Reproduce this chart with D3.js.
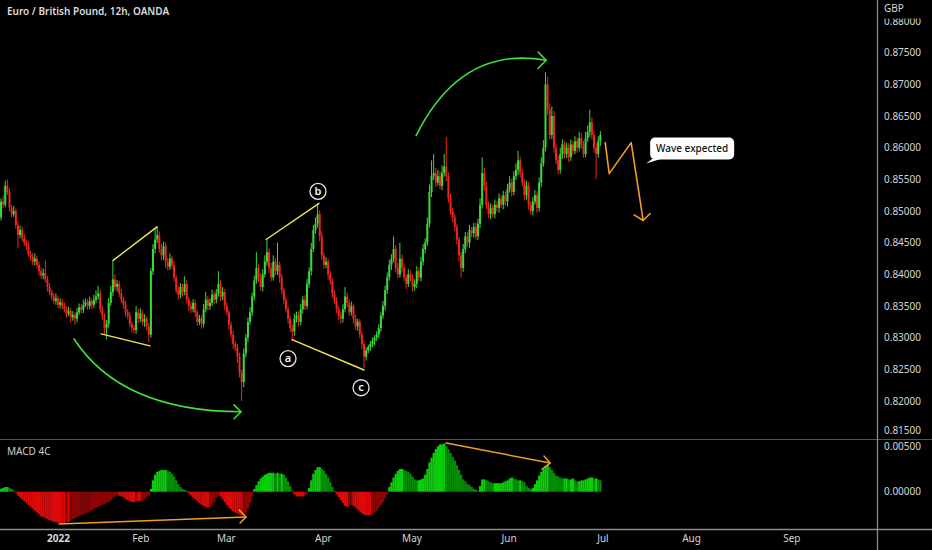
<!DOCTYPE html>
<html><head><meta charset="utf-8">
<script src="https://cdn.jsdelivr.net/npm/d3@7"></script>
<style>
html,body{margin:0;padding:0;background:#000;}
svg{display:block;font-family:"Noto Sans","DejaVu Sans",sans-serif;}
</style></head>
<body>
<svg id="c" width="932" height="550"></svg>
<script>
// ---- DATA (prices in pips: 8500 = 0.85000) ----
const firstOpen = 8490;
const closes = [
8515,8510,8540,8530,8505,8495,8500,8478,8462,8470,
8458,8450,8445,8432,8428,8420,8425,8415,8405,8398,
8402,8392,8380,8372,8365,8358,8362,8352,8356,8350,
8345,8338,8342,8332,8336,8330,8340,8348,8344,8352,
8356,8350,8358,8352,8360,8365,8370,8345,8335,8315,
8322,8355,8372,8392,8380,8385,8370,8360,8352,8340,
8335,8322,8315,8312,8340,8330,8338,8325,8330,8318,
8305,8405,8440,8455,8462,8440,8430,8445,8420,8412,
8425,8415,8395,8375,8368,8380,8372,8385,8360,8350,
8345,8355,8340,8325,8330,8322,8345,8360,8350,8355,
8368,8360,8370,8385,8365,8372,8350,8340,8320,8305,
8290,8285,8270,8245,8230,8275,8300,8325,8340,8365,
8390,8410,8395,8380,8400,8420,8435,8410,8395,8420,
8405,8415,8395,8375,8360,8345,8330,8315,8310,8330,
8335,8325,8345,8360,8350,8385,8405,8440,8470,8480,
8495,8460,8430,8415,8420,8400,8390,8370,8358,8345,
8335,8330,8345,8365,8355,8340,8350,8330,8318,8325,
8305,8290,8270,8280,8285,8290,8295,8300,8305,8315,
8335,8350,8375,8395,8415,8425,8440,8410,8400,8425,
8410,8395,8385,8400,8395,8380,8385,8405,8395,8420,
8440,8450,8480,8530,8555,8560,8545,8555,8540,8560,
8570,8555,8520,8500,8490,8475,8455,8430,8410,8440,
8460,8450,8470,8465,8475,8460,8480,8510,8560,8540,
8510,8495,8505,8495,8510,8505,8520,8510,8525,8515,
8535,8545,8530,8555,8565,8580,8560,8545,8525,8540,
8510,8500,8515,8525,8505,8545,8575,8600,8700,8660,
8620,8650,8600,8580,8565,8590,8605,8590,8600,8585,
8605,8595,8610,8600,8615,8605,8590,8615,8625,8640,
8620,8600,8590,8610,8620];
const upperWick = [
5,10,8,10,6,5,8,4,6,7, 5,6,4,7,5,6,8,4,5,6, 7,20,5,6,4,5,8,4,6,5,
6,4,7,5,6,4,7,6,5,8, 6,5,7,4,8,10,12,6,5,4, 6,8,10,30,8,6,5,7,4,6,
5,6,4,5,10,6,8,5,7,4, 5,5,8,19,13,6,8,7,5,6, 8,5,6,4,7,6,5,12,6,5,
7,6,5,4,6,5,8,12,6,7, 8,6,7,20,6,8,5,6,4,5, 6,4,5,6,5,8,6,7,8,6,
8,25,6,7,8,10,20,6,8,10, 6,35,5,6,4,5,6,4,5,8, 6,7,8,6,7,8,6,10,8,10,
17,6,8,5,7,5,6,4,5,6, 5,6,8,15,6,5,7,4,6,5, 4,5,6,5,4,5,6,4,5,6,
6,8,7,8,8,7,20,6,8,25, 7,6,5,8,6,5,7,8,6,8, 8,7,10,12,25,30,8,10,8,12,
20,47,6,7,5,6,5,4,6,8, 7,6,8,5,6,7,8,10,25,8, 6,5,7,5,8,6,8,5,7,6,
8,10,6,8,10,15,6,7,5,8, 6,5,7,8,6,8,10,12,19,12, 10,15,8,6,7,10,8,6,8,7,
8,6,8,6,10,8,6,10,10,20, 8,6,7,8,6];
const lowerWick = [
5,6,4,5,6,5,4,6,20,5, 6,5,7,4,6,5,6,5,7,5, 6,5,7,5,6,4,6,5,6,5,
5,7,4,8,5,10,6,4,6,5, 4,6,5,7,5,6,5,6,7,10, 18,6,5,6,5,7,6,5,6,7,
6,5,7,5,6,7,5,6,8,6, 12,5,6,7,5,6,8,7,10,6, 5,7,6,5,8,6,7,5,6,8,
6,5,7,6,5,8,6,5,7,6, 5,7,6,5,8,6,7,5,8,6, 8,6,10,8,30,8,6,7,5,6,
6,5,8,6,7,5,6,8,6,5, 7,6,8,6,7,5,8,6,15,7, 6,8,5,7,6,5,6,7,5,6,
6,8,7,6,5,8,6,7,5,6, 7,8,6,5,7,6,5,8,6,7, 6,8,18,6,5,6,5,7,5,6,
6,5,7,6,5,8,6,7,6,5, 7,6,8,5,6,8,6,7,5,6, 6,7,5,6,8,6,7,5,6,7,
6,8,7,6,8,7,8,10,15,6, 7,6,8,6,7,5,6,7,6,8, 7,6,8,5,7,6,8,5,7,6,
8,6,7,5,6,8,7,6,8,7, 8,6,7,5,8,6,7,5,6,8, 7,6,8,6,7,6,8,7,6,8,
6,7,5,8,6,7,6,5,6,8, 7,8,40,6,7];
// MACD histogram, units of 0.0001
const macdHist = [
3,4,5,5,4,3,1,-1,-4,-6, -8,-10,-12,-14,-16,-18,-20,-22,-24,-26,
-27,-28,-29,-30,-31,-32,-32,-33,-33,-33, -33,-32,-32,-30,-29,-28,-27,-26,-25,-24,
-23,-22,-21,-20,-18,-17,-16,-15,-14,-13, -12,-11,-9,-6,-5,-4,-4,-5,-6,-8,
-9,-10,-11,-11,-10,-10,-10,-9,-8,-6, -4,3,12,18,21,22,23,23,23,22,
21,19,16,12,8,5,3,2,1,-2, -4,-6,-8,-10,-12,-14,-15,-16,-17,-16,
-14,-11,-7,-4,-5,-8,-11,-14,-17,-19, -21,-22,-23,-24,-25,-24,-22,-18,-12,-5,
3,7,11,14,16,18,19,20,20,20, 19,20,19,19,18,15,11,6,1,-3,
-5,-5,-5,-5,-4,-2,4,12,19,23, 26,26,24,22,19,15,10,5,1,-3,
-6,-9,-12,-15,-16,-15,-14,-15,-17,-19, -21,-23,-24,-25,-25,-25,-24,-22,-20,-17,
-14,-11,-7,-3,5,10,15,19,22,24, 24,23,22,21,19,16,13,12,12,13,
14,18,24,31,36,41,45,48,50,50, 51,48,45,41,37,33,28,23,18,13,
11,8,7,5,3,2,1,6,13,13, 12,11,10,9,9,9,9,9,10,11,
12,14,15,14,13,12,12,11,10,6, 4,3,4,8,12,17,21,24,27,28,
26,23,20,17,16,15,14,14,14,13, 13,14,12,11,11,12,12,13,14,15,
15,14,14,13,12];
const priceTicks = [0.815,0.82,0.825,0.83,0.835,0.84,0.845,0.85,0.855,0.86,0.865,0.87,0.875,0.88];
const macdTicks = [0, 0.005];
const monthLabels = ["2022","Feb","Mar","Apr","May","Jun","Jul","Aug","Sep"];
const monthBars = [27, 66, 106.5, 152.5, 194.5, 240.5, 285, 327, 374.5];

// annotations in (bar, price-pips) / (bar, macd)
const greenArcs = [
  {p0:[34.6,8298], p1:[56.9,8184], p2:[113.7,8183], a1:[110.4,8194], a2:[110.4,8172]},
  {p0:[196.7,8619], p1:[218.0,8762], p2:[258.3,8738], a1:[254.5,8751], a2:[254.5,8725]}
];
const yellowLines = [
  [[53.1,8422],[73.9,8475]], [[47.4,8306],[70.6,8287]],
  [[125.6,8455],[150.7,8512]], [[137.9,8297],[172.0,8249]]
];
const waveLabels = [{t:"b", b:150.2, p:8531},{t:"a", b:136, p:8267},{t:"c", b:170.6, p:8221}];
const wavePath = [[286.3,8608],[288.2,8559],[298.6,8608],[304.3,8485]];
const waveHead = [[300.0,8494],[304.3,8485],[307.6,8496]];
const macdLines = [
  {a:[27.5,-0.00341], b:[116.1,-0.00268], h1:[112.8,-0.00193], h2:[113.3,-0.00331]},
  {a:[210.9,0.00515], b:[260.2,0.00303], h1:[257.3,0.00377], h2:[256.4,0.00240]}
];

// ---- LAYOUT ----
const W = 932, H = 550, plotR = 877, paneSplit = 439, axisY = 529;
const svg = d3.select("#c");
svg.append("rect").attr("width",W).attr("height",H).attr("fill","#000");

const x = d3.scaleLinear().domain([-0.5, 415.1]).range([0, plotR]);
const y = d3.scaleLinear().domain([0.815, 0.88]).range([432.7, 21]);
const ym = d3.scaleLinear().domain([0, 0.005]).range([491.7, 444.4]);
const step = x(1) - x(0);
const P = v => v / 10000;

const candles = closes.map((c, i) => {
  const o = i === 0 ? firstOpen : closes[i-1];
  return {i, o, c, h: Math.max(o,c) + upperWick[i], l: Math.min(o,c) - lowerWick[i]};
});

svg.append("defs").append("clipPath").attr("id","pc")
  .append("rect").attr("x",0).attr("y",0).attr("width",plotR).attr("height",paneSplit);
const gP = svg.append("g").attr("clip-path","url(#pc)");
const up = "#3ada3a", dn = "#ec2620";
gP.selectAll("line.w").data(candles).join("line").attr("class","w")
  .attr("x1", d => x(d.i)).attr("x2", d => x(d.i))
  .attr("y1", d => y(P(d.h))).attr("y2", d => y(P(d.l)))
  .attr("stroke", d => d.c >= d.o ? up : dn).attr("stroke-width", 1);
gP.selectAll("rect.b").data(candles).join("rect").attr("class","b")
  .attr("x", d => x(d.i) - 1).attr("width", 2)
  .attr("y", d => y(P(Math.max(d.o,d.c))))
  .attr("height", d => Math.max(1, Math.abs(y(P(d.o)) - y(P(d.c)))))
  .attr("fill", d => d.c >= d.o ? up : dn);

// MACD histogram (4 colours)
const mh = macdHist.map((v,i) => ({i, v: v/10000, prev: i ? macdHist[i-1]/10000 : v/10000}));
svg.append("g").selectAll("rect").data(mh).join("rect")
  .attr("x", d => x(d.i) - step/2).attr("width", step + 0.15)
  .attr("y", d => Math.min(ym(d.v), ym(0)))
  .attr("height", d => Math.abs(ym(d.v) - ym(0)))
  .attr("fill", d => d.v >= 0 ? (d.v >= d.prev ? "#0bcf0b" : "#078c07")
                              : (d.v <= d.prev ? "#dd0a0a" : "#8c0505"));

// ---- annotations ----
const ax = d => x(d[0]), ay = d => y(P(d[1]));
const ann = svg.append("g").attr("fill","none").attr("stroke-linecap","round").attr("stroke-linejoin","round");
greenArcs.forEach(g => {
  const p = d3.path();
  p.moveTo(ax(g.p0), ay(g.p0));
  p.quadraticCurveTo(ax(g.p1), ay(g.p1), ax(g.p2), ay(g.p2));
  ann.append("path").attr("d", p.toString()).attr("stroke","#3fe03f").attr("stroke-width",1.6);
  ann.append("path").attr("d", d3.line()([[ax(g.a1),ay(g.a1)],[ax(g.p2),ay(g.p2)],[ax(g.a2),ay(g.a2)]]))
    .attr("stroke","#3fe03f").attr("stroke-width",1.6);
});
yellowLines.forEach(l => {
  ann.append("line").attr("x1",ax(l[0])).attr("y1",ay(l[0])).attr("x2",ax(l[1])).attr("y2",ay(l[1]))
    .attr("stroke","#f2e35a").attr("stroke-width",1.4);
});
waveLabels.forEach(w => {
  const g = svg.append("g").attr("transform",`translate(${x(w.b)},${y(P(w.p))})`);
  g.append("circle").attr("r",8).attr("fill","#000").attr("stroke","#e8e8e8").attr("stroke-width",1.3);
  g.append("text").attr("text-anchor","middle").attr("dy","0.33em").attr("fill","#f0f0f0")
    .attr("font-size",11).attr("font-weight",600).text(w.t);
});
ann.append("path").attr("d", d3.line().x(ax).y(ay)(wavePath)).attr("stroke","#f0a020").attr("stroke-width",1.6);
ann.append("path").attr("d", d3.line().x(ax).y(ay)(waveHead)).attr("stroke","#f0a020").attr("stroke-width",1.6);

// callout
const cx0 = x(307.6), cy0 = y(P(8616)), cw = 84, ch = 22;
const callout = svg.append("g");
callout.append("path").attr("d",
  `M${cx0+4},${cy0+ch-2} L${cx0-4},${cy0+ch+4} L${cx0+12},${cy0+ch-1} Z`).attr("fill","#fff");
callout.append("rect").attr("x",cx0).attr("y",cy0).attr("width",cw).attr("height",ch)
  .attr("rx",5).attr("fill","#fff");
callout.append("text").attr("x",cx0+cw/2).attr("y",cy0+ch/2).attr("dy","0.35em")
  .attr("text-anchor","middle").attr("font-size",10).attr("fill","#111").attr("font-weight",500)
  .text("Wave expected");

macdLines.forEach(m => {
  const f = d => [x(d[0]), ym(d[1])];
  ann.append("path").attr("d", d3.line()([f(m.a), f(m.b)])).attr("stroke","#f0a020").attr("stroke-width",1.5);
  ann.append("path").attr("d", d3.line()([f(m.h1), f(m.b), f(m.h2)])).attr("stroke","#f0a020").attr("stroke-width",1.5);
});

// ---- frame lines ----
const lineCol = "#8a8a8a";
svg.append("line").attr("x1",0).attr("x2",W).attr("y1",paneSplit+0.5).attr("y2",paneSplit+0.5).attr("stroke","#555").attr("stroke-width",1);
svg.append("line").attr("x1",0).attr("x2",W).attr("y1",axisY+0.5).attr("y2",axisY+0.5).attr("stroke",lineCol).attr("stroke-width",1.3);
svg.append("line").attr("x1",plotR+0.5).attr("x2",plotR+0.5).attr("y1",0).attr("y2",H).attr("stroke",lineCol).attr("stroke-width",1.3);

// ---- axes ----
const txtCol = "#d6d6d6";
const gy = svg.append("g").attr("transform",`translate(${plotR},0)`)
  .call(d3.axisRight(y).tickValues(priceTicks).tickFormat(d3.format(".5f")).tickSize(0).tickPadding(7));
const gm = svg.append("g").attr("transform",`translate(${plotR},0)`)
  .call(d3.axisRight(ym).tickValues(macdTicks).tickFormat(d3.format(".5f")).tickSize(0).tickPadding(7));
[gy, gm].forEach(g => {
  g.select(".domain").remove();
  g.selectAll("text").attr("fill",txtCol).attr("font-size",10).attr("font-family","\"Noto Sans\",sans-serif");
});
// keep the two labels that meet at the pane border apart
gy.selectAll(".tick").filter(d => d === 0.815).select("text").attr("dy","0.1em");
gm.selectAll(".tick").filter(d => d === 0.005).select("text").attr("dy","0.55em");
svg.append("rect").attr("x",plotR+2).attr("y",0).attr("width",W-plotR-2).attr("height",18.5).attr("fill","#000");
svg.append("text").attr("x",884).attr("y",9).attr("dy","0.33em").attr("font-size",10).attr("fill",txtCol).text("GBP");

const gx = svg.append("g").attr("transform",`translate(0,${axisY})`)
  .call(d3.axisBottom(x).tickValues(monthBars).tickFormat((d,i)=>monthLabels[i]).tickSize(0).tickPadding(6));
gx.select(".domain").remove();
gx.selectAll("text").attr("fill",txtCol).attr("font-size",10).attr("font-family","\"Noto Sans\",sans-serif")
  .attr("font-weight",(d,i)=> i===0 ? 700 : 400);

// ---- titles ----
svg.append("text").attr("x",7).attr("y",12).attr("dy","0.33em").attr("font-size",10).attr("font-weight",600)
  .attr("fill","#dcdcdc").text("Euro / British Pound, 12h, OANDA");
svg.append("text").attr("x",7).attr("y",452).attr("dy","0.33em").attr("font-size",10)
  .attr("fill","#cfcfcf").text("MACD 4C");
</script>
</body></html>
